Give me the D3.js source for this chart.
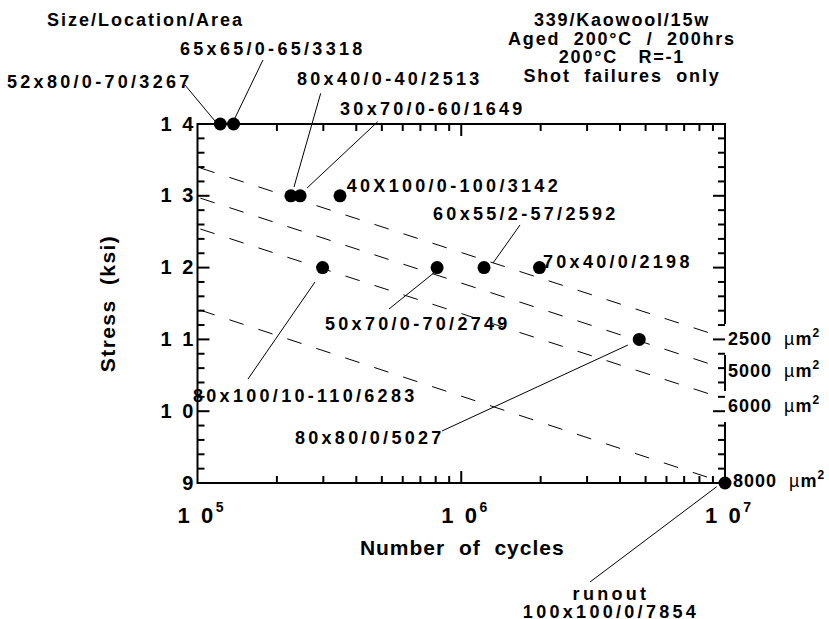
<!DOCTYPE html>
<html><head><meta charset="utf-8">
<script src="https://cdn.jsdelivr.net/npm/d3@7"></script>
<style>
html,body{margin:0;padding:0;background:#fff;}
svg{display:block;font-family:"Liberation Sans",Arial,Helvetica,sans-serif;font-weight:bold;}
svg text{white-space:pre;}
</style></head><body>
<svg id="chart" width="829" height="619"></svg>
<script>
// ---------------- DATA ----------------
const cycles = [1.22e5, 1.37e5, 2.26e5, 2.45e5, 3.47e5, 2.98e5, 8.1e5, 1.22e6, 1.98e6, 4.73e6, 1e7];
const stress = [14, 14, 13, 13, 13, 12, 12, 12, 12, 11, 9];
const specimenLabels = [
  ["52x80/0-70/3267"], ["65x65/0-65/3318"], ["80x40/0-40/2513"], ["30x70/0-60/1649"],
  ["40X100/0-100/3142"], ["80x100/10-110/6283"], ["50x70/0-70/2749"], ["60x55/2-57/2592"],
  ["70x40/0/2198"], ["80x80/0/5027"], ["runout", "100x100/0/7854"]
];
const yTickValues = [9, 10, 11, 12, 13, 14];
const xTickValues = [1e5, 1e6, 1e7];
const areaLabels = ["2500", "5000", "6000", "8000"];
const areaStartStress = [13.40, 12.98, 12.55, 11.42];
const areaEndStress = [11.02, 10.59, 10.17, 9.0];
const areaCycles = [1e5, 1e7];
const infoLines = ["339/Kaowool/15w", "Aged  200\u00B0C  /  200hrs", "200\u00B0C   R=-1", "Shot  failures  only"];
const cornerTitle = "Size/Location/Area";
const xTitle = "Number  of  cycles";
const yTitle = "Stress  (ksi)";

// ---------------- LAYOUT ----------------
const M = {left: 197.5, right: 725, top: 124, bottom: 483};
// label offsets relative to their point (pixels): text start (tx,ty) and leader (x1,y1)->(x2,y2)
const labelLayout = [
  {tx: -213.3, ty: -36, l: [-35.3, -39, -5.3, -3]},
  {tx: -53.6, ty: -69, l: [29.4, -64, 1.4, -6]},
  {tx: 6.1, ty: -110.8, l: [29.8, -102.5, 3.1, -8.8]},
  {tx: 39.9, ty: -80.8, l: [77.6, -74.1, 6.9, -7.8]},
  {tx: 6.7, ty: -4.1, l: null},
  {tx: -129.6, ty: 134.4, l: [-74.6, 111.4, -7.6, 14.4]},
  {tx: -112.1, ty: 62.4, l: [-48.1, 41.4, -2.1, 4.4]},
  {tx: -51, ty: -47.6, l: [36, -42.6, 9, -4.6]},
  {tx: 3.5, ty: 0.4, l: null},
  {tx: -344.3, ty: 104.6, l: [-197.3, 91.6, -11.3, 5.6]},
  {tx: -114, ty: 117, anchor: "middle", lh: 18, l: [-135, 99, -8.3, 3.7]}
];
const areaLabelLayout = [
  {dx: 3, dy: 7, mask: true}, {dx: 3, dy: 8}, {dx: 3, dy: 13, mask: true}, {dx: 8, dy: 4}
];

const svg = d3.select("#chart");
svg.append("rect").attr("width", 829).attr("height", 619).attr("fill", "#fff");

const x = d3.scaleLog().domain([1e5, 1e7]).range([M.left, M.right]);
const y = d3.scaleLinear().domain([9, 14]).range([M.bottom, M.top]);

// dashed iso-area lines
areaLabels.forEach((a, i) => {
  svg.append("line")
    .attr("x1", x(areaCycles[0])).attr("y1", y(areaStartStress[i]))
    .attr("x2", x(areaCycles[1])).attr("y2", y(areaEndStress[i]))
    .attr("stroke", "#000").attr("stroke-width", 1)
    .attr("stroke-dasharray", "15,15.5").attr("stroke-dashoffset", -3);
});

// frame
const frame = svg.append("g").attr("stroke", "#000").attr("stroke-width", 2).attr("fill", "none");
frame.append("path").attr("d",
  `M${M.left},${M.top}V${M.bottom}H${M.right}V${M.top}H${M.left}Z`);

const xAll = x.ticks();
const xMinor = xAll.filter(v => !xTickValues.includes(v));
const yMinor = d3.range(9, 14.001, 0.2).filter(v => Math.abs(v - Math.round(v)) > 0.01);

// minor ticks
const tk = svg.append("g").attr("stroke", "#000").attr("stroke-width", 2);
xMinor.forEach(v => {
  tk.append("line").attr("x1", x(v)).attr("x2", x(v)).attr("y1", M.bottom).attr("y2", M.bottom - 7);
  tk.append("line").attr("x1", x(v)).attr("x2", x(v)).attr("y1", M.top).attr("y2", M.top + 7);
});
yMinor.forEach(v => {
  tk.append("line").attr("y1", y(v)).attr("y2", y(v)).attr("x1", M.left).attr("x2", M.left + 7);
  tk.append("line").attr("y1", y(v)).attr("y2", y(v)).attr("x1", M.right).attr("x2", M.right - 7);
});

// area labels (with white masks)
const areaG = svg.append("g");
areaLabels.forEach((a, i) => {
  const L = areaLabelLayout[i];
  const bx = x(areaCycles[1]) + L.dx, by = y(areaEndStress[i]) + L.dy;
  if (L.mask) {
    areaG.append("rect").attr("x", M.right - 6).attr("y", by - 21).attr("width", 829 - M.right + 6).attr("height", 31).attr("fill", "#fff");
  }
  const t = areaG.append("text").attr("x", bx).attr("y", by).attr("font-size", 18).attr("letter-spacing", 1);
  t.append("tspan").text(a + "  ");
  t.append("tspan").attr("font-weight", "normal").text("\u00B5");
  t.append("tspan").text("m");
  t.append("tspan").attr("font-size", 12).attr("dy", -8).text("2");
});

// major ticks
yTickValues.slice(1, -1).forEach(v => {
  tk.append("line").attr("y1", y(v)).attr("y2", y(v)).attr("x1", M.left).attr("x2", M.left + 12);
  tk.append("line").attr("y1", y(v)).attr("y2", y(v)).attr("x1", M.right).attr("x2", M.right - 12);
});
xTickValues.slice(1, -1).forEach(v => {
  tk.append("line").attr("x1", x(v)).attr("x2", x(v)).attr("y1", M.bottom).attr("y2", M.bottom - 12);
  tk.append("line").attr("x1", x(v)).attr("x2", x(v)).attr("y1", M.top).attr("y2", M.top + 12);
});
svg.node().appendChild(tk.node());

// y tick labels
yTickValues.forEach(v => {
  svg.append("text").attr("x", M.left - 1.5).attr("y", y(v) + 6.5)
    .attr("text-anchor", "end").attr("font-size", 20).attr("letter-spacing", 2.6)
    .text(String(v).split("").join(" "));
});
// x tick labels
xTickValues.forEach(v => {
  const e = Math.round(Math.log10(v));
  const t = svg.append("text").attr("x", x(v) + 3).attr("y", M.bottom + 39.5)
    .attr("text-anchor", "middle").attr("font-size", 22).attr("letter-spacing", 2.6);
  t.append("tspan").text("1 0");
  t.append("tspan").attr("font-size", 14).attr("dy", -10.5).attr("letter-spacing", 0).text(e);
});

// axis titles
svg.append("text").attr("x", (M.left + M.right) / 2 + 1).attr("y", 555)
  .attr("text-anchor", "middle").attr("font-size", 21).attr("letter-spacing", 1).text(xTitle);
svg.append("text").attr("transform", `translate(115,${(M.top + M.bottom) / 2}) rotate(-90)`)
  .attr("text-anchor", "middle").attr("font-size", 21).attr("letter-spacing", 1.4).text(yTitle);

// corner title & info block
svg.append("text").attr("x", 47).attr("y", 26).attr("font-size", 18).attr("letter-spacing", 2).text(cornerTitle);
infoLines.forEach((s, i) => {
  svg.append("text").attr("x", 622).attr("y", 26 + i * 18.5).attr("text-anchor", "middle")
    .attr("font-size", 18).attr("letter-spacing", 1.8).text(s);
});

// annotations
const ann = svg.append("g");
cycles.forEach((c, i) => {
  const px = x(c), py = y(stress[i]), L = labelLayout[i];
  if (L.l) {
    ann.append("line").attr("x1", px + L.l[0]).attr("y1", py + L.l[1])
      .attr("x2", px + L.l[2]).attr("y2", py + L.l[3])
      .attr("stroke", "#000").attr("stroke-width", 1);
  }
  specimenLabels[i].forEach((s, j) => {
    ann.append("text").attr("x", px + L.tx).attr("y", py + L.ty + j * (L.lh || 0))
      .attr("text-anchor", L.anchor || "start").attr("font-size", 18).attr("letter-spacing", 3.3).text(s);
  });
});

// points
svg.append("g").selectAll("circle").data(cycles).join("circle")
  .attr("cx", d => x(d)).attr("cy", (d, i) => y(stress[i])).attr("r", 6.5).attr("fill", "#000");
</script>
</body></html>
